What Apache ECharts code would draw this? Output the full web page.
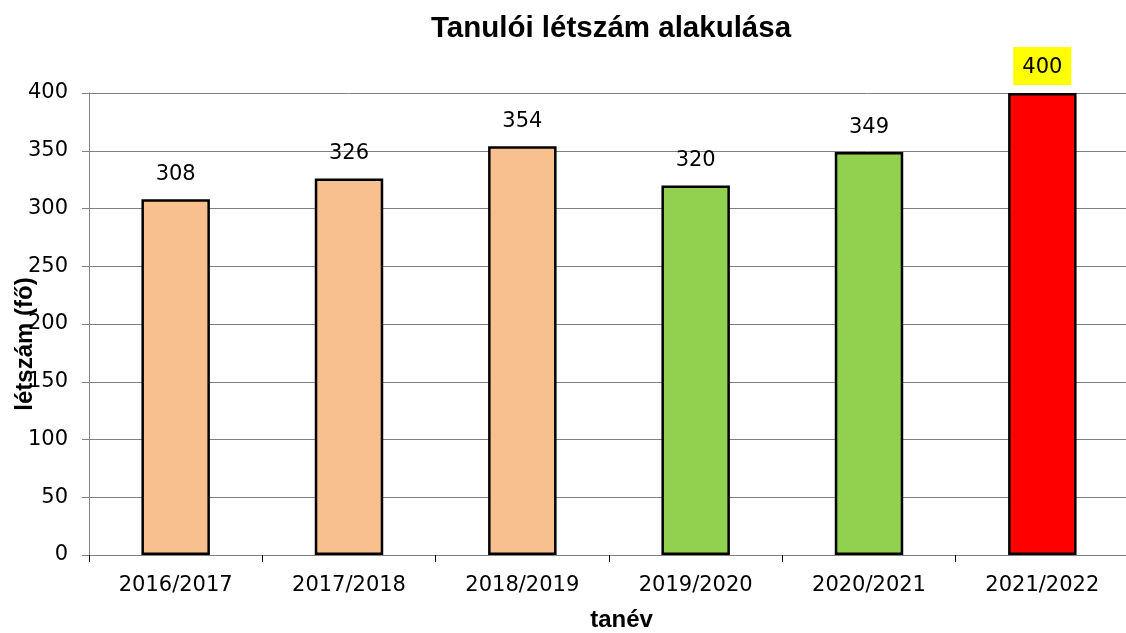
<!DOCTYPE html>
<html>
<head>
<meta charset="utf-8">
<script src="https://cdn.jsdelivr.net/npm/echarts@6/dist/echarts.min.js"></script>
<style>
    html, body { margin: 0; padding: 0; background: #fff; }
    #chart { width: 1126px; height: 633px; }
</style>
</head>
<body>
<div id="chart"></div>
<script>
    // tanévek és létszámok
    const years = ['2016/2017', '2017/2018', '2018/2019', '2019/2020', '2020/2021', '2021/2022'];
    const counts = [308, 326, 354, 320, 349, 400];
    const barColors = ['#F9C08F', '#F9C08F', '#F9C08F', '#92D050', '#92D050', '#FF0000'];
    const yTicks = [0, 50, 100, 150, 200, 250, 300, 350, 400];

    const font = 'Liberation Sans, Arial, sans-serif';
    const wideFont = 'DejaVu Sans, sans-serif';

    let chart = echarts.init(document.getElementById('chart'));
    let option = {
        animation: false,
        title: {
            text: 'Tanulói létszám alakulása',
            left: 606,
            top: 9,
            textAlign: 'center',
            textStyle: { fontFamily: font, fontSize: 29.5, fontWeight: 'bold', color: '#000' }
        },
        // a kategóriatengely jobbra kilóg a képből
        grid: { left: 89, right: -3, top: 93, bottom: 78, outerBoundsMode: 'none' },
        xAxis: {
            type: 'category',
            data: years,
            name: 'tanév',
            nameLocation: 'middle',
            nameGap: 53,
            nameMoveOverlap: false,
            nameTextStyle: { fontFamily: font, fontSize: 24, fontWeight: 'bold', color: '#000', padding: [0, 0, 0, 25] },
            axisLine: { lineStyle: { color: '#808080', width: 1 } },
            axisTick: { show: true, length: 7, lineStyle: { color: '#000' } },
            axisLabel: { fontFamily: wideFont, fontSize: 21, color: '#000', margin: 20 }
        },
        yAxis: {
            type: 'value',
            min: yTicks[0],
            max: yTicks[yTicks.length - 1],
            interval: 50,
            name: 'létszám (fő)',
            nameLocation: 'middle',
            nameGap: 52,
            nameMoveOverlap: false,
            nameTextStyle: { fontFamily: font, fontSize: 24, fontWeight: 'bold', color: '#000', padding: [0, 40, 0, 0] },
            axisLine: { show: true, lineStyle: { color: '#808080', width: 1 } },
            axisTick: { show: true, length: 7, lineStyle: { color: '#808080' } },
            axisLabel: { fontFamily: wideFont, fontSize: 21, color: '#000', margin: 21, padding: [3, 0, 0, 0] },
            splitLine: { lineStyle: { color: '#808080', width: 1 } }
        },
        series: [{
            type: 'bar',
            barWidth: '39.5%',
            data: counts.map((v, i) => ({
                value: v,
                itemStyle: { color: barColors[i] },
                label: i === counts.length - 1 ? { backgroundColor: '#FFFF00', padding: [10, 9, 7, 9], distance: 8 } : {}
            })),
            itemStyle: { borderColor: '#000', borderWidth: 2.5 },
            label: {
                show: true,
                position: 'top',
                distance: 14,
                fontFamily: wideFont,
                fontSize: 21,
                color: '#000'
            }
        }]
    };
    chart.setOption(option);
</script>
</body>
</html>
